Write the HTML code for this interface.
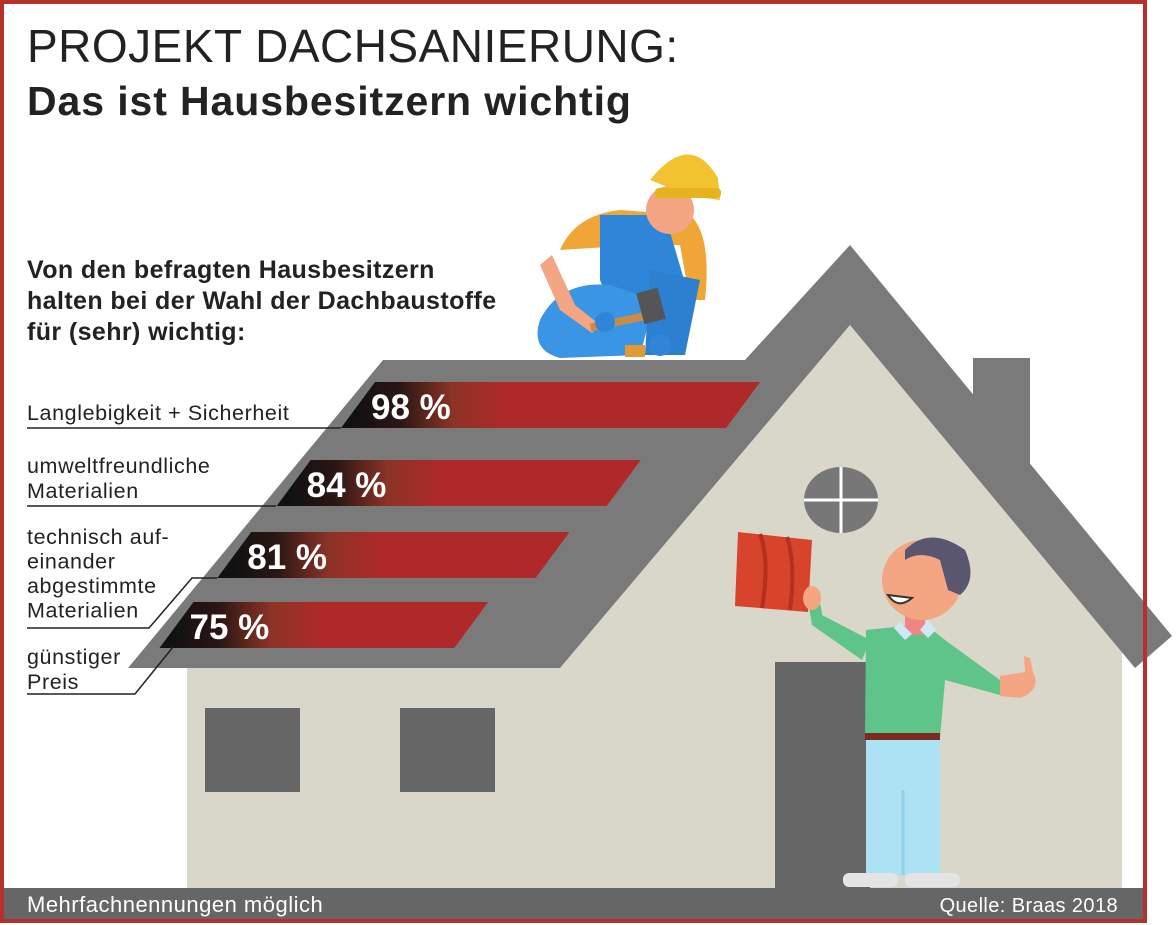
<!DOCTYPE html>
<html><head><meta charset="utf-8">
<style>
html,body{margin:0;padding:0;background:#fff;}
svg{display:block;font-family:"Liberation Sans",Arial,sans-serif;}
</style></head>
<body>
<svg id="chart" width="1176" height="925" viewBox="0 0 1176 925" xmlns="http://www.w3.org/2000/svg">
  <rect x="0" y="0" width="1176" height="925" fill="#fff"/>
  <polygon points="560,668 850,325 1122,590 1122,888 187,888 187,668" fill="#d9d7c9"/>
  <rect x="973" y="358" width="57" height="110" fill="#7a7a7a"/>
  <polygon points="745,360 850,245 1172,636 1135,668 850,325 560,668 468,668" fill="#7a7a7a"/>
  <polygon points="383,360 760,360 560,668 128,668" fill="#7a7a7a"/>
  <rect x="205" y="708" width="95" height="84" fill="#666"/>
  <rect x="400" y="708" width="95" height="84" fill="#666"/>
  <rect x="775" y="662" width="95" height="226" fill="#666"/>
  <g>
    <ellipse cx="841" cy="500" rx="37" ry="33" fill="#777"/>
    <line x1="841" y1="467" x2="841" y2="533" stroke="#fff" stroke-width="3"/>
    <line x1="804" y1="500" x2="878" y2="500" stroke="#fff" stroke-width="3"/>
  </g>

  <g>
    <path d="M560 250 Q575 215 620 210 L690 215 Q712 235 705 300 L690 300 L680 245 L640 245 Z" fill="#f0a636"/>
    <path d="M600 215 L665 215 L690 300 L665 330 L620 330 L600 280 Z" fill="#2f86d8"/>
    <path d="M540 320 Q560 280 610 285 L655 300 L640 355 L560 358 Q530 350 540 320 Z" fill="#3a95e4"/>
    <path d="M650 270 L700 280 L685 355 L645 355 Z" fill="#2d7fcf"/>
    <circle cx="670" cy="210" r="24" fill="#f4a582"/>
    <path d="M650 180 Q690 130 718 178 L720 200 L690 196 Z" fill="#f2c230"/>
    <rect x="655" y="188" width="66" height="10" rx="4" fill="#e8b21e"/>
    <path d="M552 255 L575 305 L600 325 L592 333 L560 310 L540 265 Z" fill="#f4a582"/>
    <rect x="590" y="318" width="55" height="8" fill="#c98b4a" transform="rotate(-12 617 322)"/>
    <rect x="640" y="290" width="22" height="32" fill="#555" transform="rotate(-15 651 306)"/>
    <circle cx="605" cy="322" r="10" fill="#2f86d8"/>
    <circle cx="660" cy="345" r="11" fill="#2f86d8"/>
    <rect x="625" y="345" width="20" height="12" fill="#e09a2e"/>
  </g>

  <g>
    <path d="M738 532 L812 540 L808 612 L735 606 Z" fill="#d8432b"/>
    <path d="M760 534 Q770 560 762 608 M787 537 Q796 565 790 610" stroke="#b52f1e" stroke-width="4" fill="none"/>
    <path d="M808 600 Q820 590 822 615 L870 640 L862 660 L812 625 Z" fill="#5fc48a"/>
    <ellipse cx="812" cy="598" rx="9" ry="12" fill="#f4a582"/>
    <path d="M866 630 L925 624 L945 640 L1000 680 L1000 695 L945 680 L940 738 L865 738 Z" fill="#5fc48a"/>
    <path d="M1000 676 L1025 672 L1024 656 L1030 658 L1033 672 Q1042 690 1020 698 L1000 696 Z" fill="#f4a582"/>
    <rect x="865" y="733" width="75" height="7" fill="#7b2b20"/>
    <rect x="866" y="740" width="74" height="135" fill="#ace2f4"/>
    <line x1="903" y1="790" x2="903" y2="875" stroke="#8fd0ea" stroke-width="3"/>
    <rect x="843" y="873" width="55" height="14" rx="6" fill="#e4e4e4"/>
    <rect x="905" y="873" width="55" height="14" rx="6" fill="#e4e4e4"/>
    <rect x="905" y="615" width="20" height="20" fill="#f08585"/>
    <polygon points="900,622 912,634 905,640 894,628" fill="#cfe8f5"/>
    <polygon points="928,620 936,630 928,638 920,630" fill="#cfe8f5"/>
    <ellipse cx="922" cy="580" rx="40" ry="40" fill="#f4a582"/>
    <path d="M905 550 Q930 525 965 550 Q978 580 960 595 L948 590 L940 560 Q920 550 905 560 Z" fill="#5a5670"/>
    <path d="M888 595 Q898 610 912 598 Z" fill="#fff" stroke="#333" stroke-width="2"/>
  </g>

  <g id="bars"></g>

  <g font-size="21.5" letter-spacing="0.6" fill="#222">
    <text x="27" y="420">Langlebigkeit + Sicherheit</text>
    <text x="27" y="473"><tspan x="27">umweltfreundliche</tspan><tspan x="27" dy="25">Materialien</tspan></text>
    <text x="27" y="544"><tspan x="27">technisch auf-</tspan><tspan x="27" dy="24.5">einander</tspan><tspan x="27" dy="24.5">abgestimmte</tspan><tspan x="27" dy="24.5">Materialien</tspan></text>
    <text x="27" y="664"><tspan x="27">günstiger</tspan><tspan x="27" dy="25">Preis</tspan></text>
  </g>
  <g stroke="#222" stroke-width="1.5" fill="none">
    <polyline points="27,428 341,428"/>
    <polyline points="27,506 276,506"/>
    <polyline points="27,628 149,628 192,578 217,578"/>
    <polyline points="27,694 135,694 173,647"/>
  </g>

  <text x="27" y="62" font-size="46" fill="#222" letter-spacing="0.5">PROJEKT DACHSANIERUNG:</text>
  <text x="27" y="115" font-size="41" font-weight="bold" fill="#222" letter-spacing="0.9">Das ist Hausbesitzern wichtig</text>
  <text x="27" y="278" font-size="25" font-weight="bold" fill="#222" letter-spacing="0.4"><tspan x="27">Von den befragten Hausbesitzern</tspan><tspan x="27" dy="31">halten bei der Wahl der Dachbaustoffe</tspan><tspan x="27" dy="31">für (sehr) wichtig:</tspan></text>

  <rect x="4" y="888" width="1140" height="31" fill="#666"/>
  <text x="27" y="912" font-size="22" letter-spacing="0.5" fill="#fff">Mehrfachnennungen möglich</text>
  <text x="1118" y="912" font-size="20" letter-spacing="0.4" fill="#fff" text-anchor="end">Quelle: Braas 2018</text>

  <rect x="2" y="2" width="1143" height="919" fill="none" stroke="#b8302c" stroke-width="4"/>
</svg>
<script>
const categories = ["Langlebigkeit + Sicherheit", "umweltfreundliche Materialien", "technisch aufeinander abgestimmte Materialien", "günstiger Preis"];
const values = [98, 84, 81, 75];
const valueLabels = ["98 %", "84 %", "81 %", "75 %"];

const NS = "http://www.w3.org/2000/svg";
const g = document.getElementById("bars");
const defs = document.createElementNS(NS, "defs");
g.appendChild(defs);
const barTops = [382, 460, 532, 602];
const barH = 46;
const slant = 34;
const pxPerPct = 3.93;
function xLeft(y) { return 375 - 0.825 * (y - 382); }
function xLen(v) { return v * pxPerPct; }

values.forEach(function (v, i) {
  const top = barTops[i];
  const lt = xLeft(top);
  const rt = lt + xLen(v);
  const grad = document.createElementNS(NS, "linearGradient");
  grad.setAttribute("id", "grad" + i);
  grad.setAttribute("gradientUnits", "userSpaceOnUse");
  grad.setAttribute("x1", lt - 20);
  grad.setAttribute("x2", lt + 130);
  grad.setAttribute("y1", 0);
  grad.setAttribute("y2", 0);
  [["0", "#111"], ["0.3", "#2a1614"], ["0.65", "#8c3326"], ["1", "#b0292a"]].forEach(function (s) {
    const st = document.createElementNS(NS, "stop");
    st.setAttribute("offset", s[0]);
    st.setAttribute("stop-color", s[1]);
    grad.appendChild(st);
  });
  defs.appendChild(grad);

  const poly = document.createElementNS(NS, "polygon");
  poly.setAttribute("points", [lt + "," + top, rt + "," + top, (rt - slant) + "," + (top + barH), (lt - slant) + "," + (top + barH)].join(" "));
  poly.setAttribute("fill", "url(#grad" + i + ")");
  
  
  g.appendChild(poly);

  const t = document.createElementNS(NS, "text");
  t.setAttribute("x", lt - 4);
  t.setAttribute("y", top + 37);
  t.setAttribute("font-size", "35");
  t.setAttribute("font-weight", "bold");
  t.setAttribute("fill", "#fff");
  t.textContent = valueLabels[i];
  
  
  g.appendChild(t);
});
</script>
</body></html>
